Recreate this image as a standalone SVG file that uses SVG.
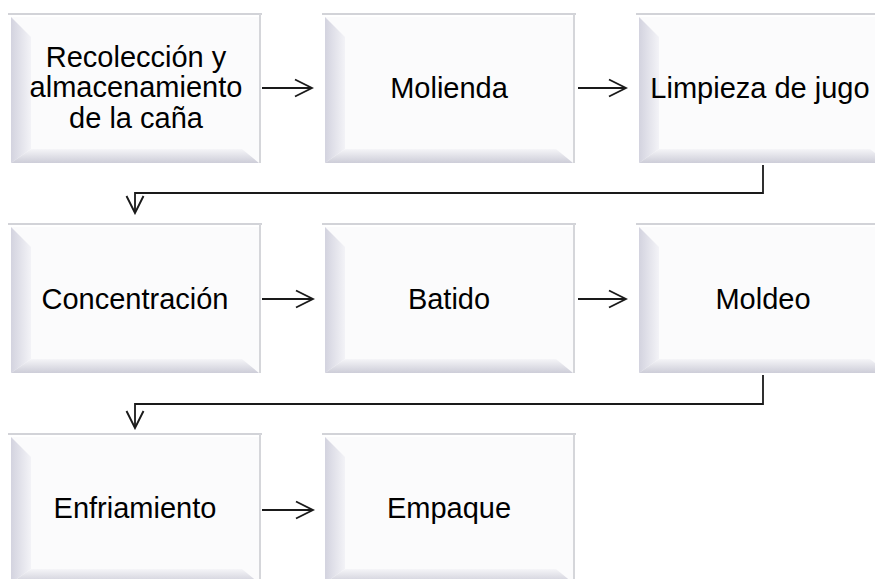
<svg xmlns="http://www.w3.org/2000/svg" xmlns:xlink="http://www.w3.org/1999/xlink" width="875" height="579" viewBox="0 0 875 579">
<defs>
<linearGradient id="gl" x1="0" y1="0" x2="1" y2="0">
<stop offset="0" stop-color="#d3d3df"/>
<stop offset="1" stop-color="#f3f3f7"/>
</linearGradient>
<linearGradient id="gb" x1="0" y1="0" x2="0" y2="1">
<stop offset="0" stop-color="#f5f5f8"/>
<stop offset="1" stop-color="#cdcdd8"/>
</linearGradient>
<g id="box">
<rect x="0" y="0" width="254" height="150" fill="#ffffff"/>
<rect x="3" y="4" width="248" height="146" fill="#fbfbfc"/>
<polygon points="3,4 23,24 23,136 3,150" fill="url(#gl)"/>
<polygon points="3,150 23,136 234,136 251,150" fill="url(#gb)"/>
<line x1="0" y1="1" x2="254" y2="1" stroke="#d2d3d8" stroke-width="2"/>
<line x1="252" y1="1" x2="252" y2="150" stroke="#d5d6da" stroke-width="2"/>
</g>
<marker id="ah" viewBox="0 0 20 20" refX="18" refY="10" markerWidth="20" markerHeight="20" markerUnits="userSpaceOnUse" orient="auto">
<polyline points="1,1.5 18,10 1,18.5" fill="none" stroke="#1a1a1a" stroke-width="1.9"/>
</marker>
</defs>
<style>
.t{font-family:"Liberation Sans",Arial,sans-serif;font-size:29px;fill:#000;text-anchor:middle}
.c{fill:none;stroke:#1a1a1a;stroke-width:1.8}
</style>
<rect width="875" height="579" fill="#ffffff"/>
<g id="n1"><use xlink:href="#box" x="8" y="13"/><text class="t" x="136" y="67">Recolección y</text><text class="t" x="136" y="97">almacenamiento</text><text class="t" x="136" y="128">de la caña</text></g>
<g id="n2"><use xlink:href="#box" x="322" y="13"/><text class="t" x="449" y="98">Molienda</text></g>
<g id="n3"><use xlink:href="#box" x="636" y="13"/><text class="t" x="760" y="98">Limpieza de jugo</text></g>
<g id="n4"><use xlink:href="#box" x="8" y="223"/><text class="t" x="135" y="309">Concentración</text></g>
<g id="n5"><use xlink:href="#box" x="322" y="223"/><text class="t" x="449" y="309">Batido</text></g>
<g id="n6"><use xlink:href="#box" x="636" y="223"/><text class="t" x="763" y="309">Moldeo</text></g>
<g id="n7"><use xlink:href="#box" x="8" y="433"/><text class="t" x="135" y="518">Enfriamiento</text></g>
<g id="n8"><use xlink:href="#box" x="322" y="433"/><text class="t" x="449" y="518">Empaque</text></g>
<g id="connectors">
<path class="c" d="M262,88 H312" marker-end="url(#ah)"/>
<path class="c" d="M578,88 H626" marker-end="url(#ah)"/>
<path class="c" d="M763,165 V193 H135 V213" marker-end="url(#ah)"/>
<path class="c" d="M262,299 H313" marker-end="url(#ah)"/>
<path class="c" d="M578,299 H626" marker-end="url(#ah)"/>
<path class="c" d="M763,375 V404 H135 V428" marker-end="url(#ah)"/>
<path class="c" d="M262,510 H313" marker-end="url(#ah)"/>
</g>
</svg>
